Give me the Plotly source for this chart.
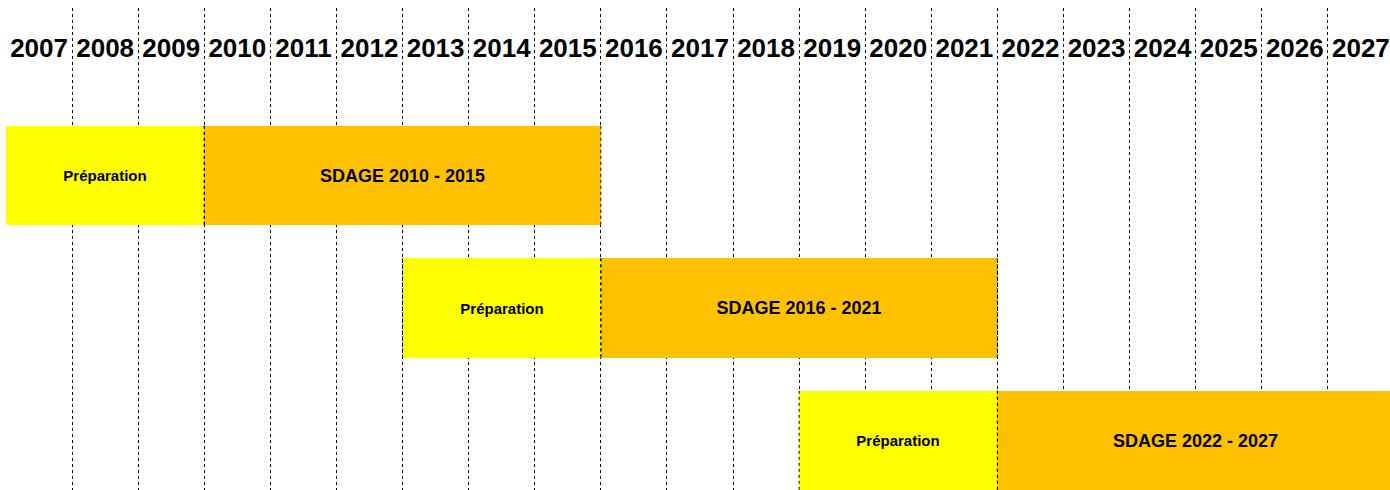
import plotly.graph_objects as go

years = list(range(2007, 2028))
rows = [0, 0, 1, 1, 2, 2]
starts = [2007, 2010, 2013, 2016, 2019, 2022]
ends = [2010, 2016, 2016, 2022, 2022, 2028]
labels = ["Préparation", "SDAGE 2010 - 2015", "Préparation", "SDAGE 2016 - 2021",
          "Préparation", "SDAGE 2022 - 2027"]
kinds = ["prep", "sdage", "prep", "sdage", "prep", "sdage"]

COL = {"prep": "#FFFF00", "sdage": "#FFC000"}
SIZE = {"prep": 15, "sdage": 18}
FONT = "Liberation Sans, Arial, sans-serif"

fig = go.Figure()
fig.add_trace(go.Bar(
    orientation="h",
    y=rows,
    x=[e - s for s, e in zip(starts, ends)],
    base=starts,
    width=0.75,
    marker=dict(color=[COL[k] for k in kinds], line=dict(width=0)),
    text=["<b>%s</b>" % t for t in labels],
    textposition="inside",
    insidetextanchor="middle",
    textangle=0,
    constraintext="none",
    textfont=dict(family=FONT, size=[SIZE[k] for k in kinds], color="black"),
    hoverinfo="skip",
    showlegend=False,
))

# year labels
fig.add_trace(go.Scatter(
    x=[y + 0.5 for y in years],
    y=[-0.947] * len(years),
    mode="text",
    text=["<b>%d</b>" % y for y in years],
    textfont=dict(family=FONT, size=26, color="black"),
    hoverinfo="skip",
    showlegend=False,
))

# dotted edges of bars drawn above the bars
shapes = []
for r, s, e in zip(rows, starts, ends):
    for xv in (s, e):
        if xv in (2007, 2028):
            continue
        shapes.append(dict(type="line", xref="x", yref="y", x0=xv, x1=xv,
                           y0=r - 0.375, y1=r + 0.375, layer="above",
                           line=dict(color="black", width=1, dash="dot")))

fig.update_layout(
    width=1390, height=490,
    margin=dict(l=0, r=0, t=8, b=0),
    paper_bgcolor="white", plot_bgcolor="white",
    shapes=shapes,
    bargap=0,
    xaxis=dict(range=[2006.909, 2027.94], tickvals=years[1:], showticklabels=False,
               showgrid=True, gridcolor="black", gridwidth=1, griddash="dot",
               zeroline=False, showline=False, ticks=""),
    yaxis=dict(range=[2.3736, -1.264], showgrid=False, zeroline=False,
               showticklabels=False, showline=False, ticks=""),
)

fig.write_html("out.html", config={"displayModeBar": False},
               post_script="document.body.style.margin='0';document.body.style.overflow='hidden';")
